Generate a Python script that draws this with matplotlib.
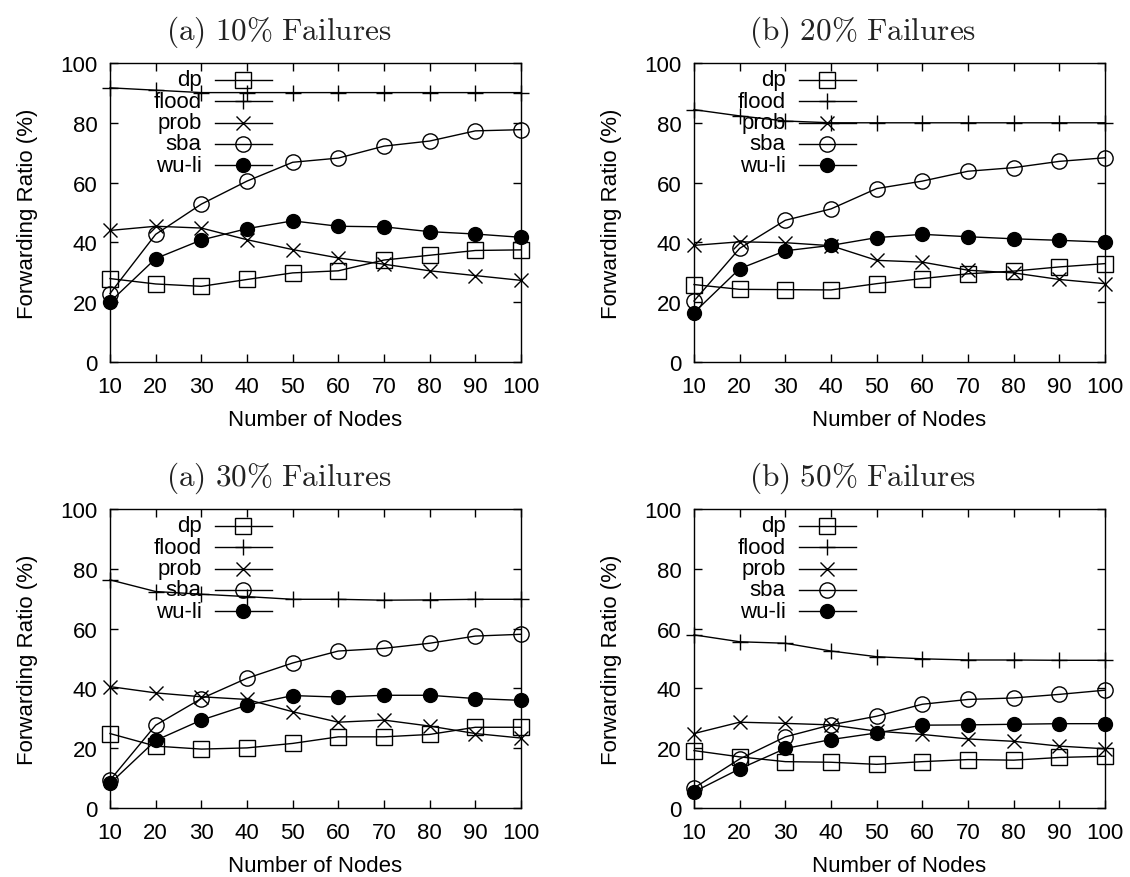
import matplotlib
matplotlib.use("Agg")
import matplotlib.pyplot as plt

plt.rcParams['font.family'] = ['Liberation Sans', 'DejaVu Sans']
plt.rcParams['mathtext.fontset'] = 'cm'

# Number of nodes in the network
nodes = [10, 20, 30, 40, 50, 60, 70, 80, 90, 100]

series_names = ["dp", "flood", "prob", "sba", "wu-li"]

# Forwarding ratio (%) for 10% failures
f10_dp    = [27.9, 26.1, 25.3, 27.6, 29.8, 30.5, 34.1, 35.7, 37.3, 37.5]
f10_flood = [91.7, 90.9, 90.1, 90.1, 90.1, 90.1, 90.1, 90.1, 90.1, 90.1]
f10_prob  = [44.0, 45.4, 44.8, 40.9, 37.6, 34.8, 32.7, 30.5, 28.9, 27.3]
f10_sba   = [22.9, 42.7, 52.8, 60.5, 66.8, 68.2, 72.2, 73.9, 77.3, 77.7]
f10_wuli  = [20.1, 34.6, 40.8, 44.6, 47.2, 45.4, 45.2, 43.6, 42.8, 41.7]

# Forwarding ratio (%) for 20% failures
f20_dp    = [25.9, 24.3, 24.2, 24.1, 26.2, 27.9, 29.5, 30.4, 31.8, 32.9]
f20_flood = [84.4, 82.3, 80.6, 80.0, 80.0, 80.0, 80.0, 80.0, 80.0, 80.0]
f20_prob  = [39.0, 40.2, 39.9, 38.9, 34.0, 33.4, 30.7, 29.8, 27.6, 26.2]
f20_sba   = [20.4, 38.0, 47.4, 51.2, 58.0, 60.5, 63.8, 65.0, 67.1, 68.3]
f20_wuli  = [16.5, 31.2, 37.2, 39.0, 41.6, 42.7, 41.9, 41.2, 40.7, 40.1]

# Forwarding ratio (%) for 30% failures
f30_dp    = [24.9, 20.7, 19.7, 20.1, 21.6, 23.8, 23.8, 24.6, 27.0, 27.0]
f30_flood = [76.3, 72.4, 71.5, 70.7, 69.8, 69.8, 69.5, 69.6, 69.8, 69.8]
f30_prob  = [40.6, 38.5, 37.2, 36.3, 32.2, 28.7, 29.4, 27.4, 24.9, 23.4]
f30_sba   = [9.3, 27.7, 36.6, 43.4, 48.5, 52.5, 53.4, 55.1, 57.5, 58.1]
f30_wuli  = [8.2, 22.6, 29.4, 34.4, 37.6, 37.1, 37.7, 37.7, 36.6, 36.0]

# Forwarding ratio (%) for 50% failures
f50_dp    = [19.2, 17.1, 15.5, 15.3, 14.6, 15.5, 16.2, 16.0, 16.9, 17.3]
f50_flood = [57.9, 55.6, 55.1, 52.5, 50.6, 49.9, 49.5, 49.5, 49.4, 49.4]
f50_prob  = [24.9, 28.7, 28.3, 27.8, 25.7, 24.6, 23.1, 22.3, 20.7, 19.8]
f50_sba   = [6.7, 16.4, 23.8, 27.8, 30.7, 34.7, 36.3, 36.8, 38.0, 39.4]
f50_wuli  = [5.4, 13.1, 19.9, 22.9, 25.1, 27.7, 27.8, 28.0, 28.2, 28.2]

panel_titles = [r"$\mathrm{(a)\ 10\%\ Failures}$", r"$\mathrm{(b)\ 20\%\ Failures}$",
                r"$\mathrm{(a)\ 30\%\ Failures}$", r"$\mathrm{(b)\ 50\%\ Failures}$"]
panel_data = [
    [f10_dp, f10_flood, f10_prob, f10_sba, f10_wuli],
    [f20_dp, f20_flood, f20_prob, f20_sba, f20_wuli],
    [f30_dp, f30_flood, f30_prob, f30_sba, f30_wuli],
    [f50_dp, f50_flood, f50_prob, f50_sba, f50_wuli],
]

y_ticks = [0, 20, 40, 60, 80, 100]

styles = [
    dict(marker='s', markersize=11, markerfacecolor='none'),
    dict(marker='+', markersize=11),
    dict(marker='x', markersize=10),
    dict(marker='o', markersize=11, markerfacecolor='none'),
    dict(marker='o', markersize=10, markerfacecolor='black'),
]

FS = 16

fig = plt.figure(figsize=(11.3, 8.78), dpi=100)

W, H = 1130, 878
ax_w, ax_h = 411, 299
lefts = [110, 694]
tops = [64, 510]

for idx in range(4):
    r, c = divmod(idx, 2)
    l = lefts[c]
    t = tops[r]
    ax = fig.add_axes([l / W, 1 - (t + ax_h) / H, ax_w / W, ax_h / H])
    for name, vals, st in zip(series_names, panel_data[idx], styles):
        ax.plot(nodes, vals, color='black', lw=1.0, markeredgewidth=1.0,
                markeredgecolor='black', clip_on=False, **st)
    ax.set_xlim(10, 100)
    ax.set_ylim(0, 100)
    ax.set_xticks(nodes)
    ax.set_yticks(y_ticks)
    ax.tick_params(direction='in', length=6, width=1, top=True, right=True,
                   labelsize=FS, colors='black')
    ax.tick_params(axis='x', pad=10)
    ax.tick_params(axis='y', pad=9)
    for sp in ax.spines.values():
        sp.set_linewidth(1.0)
    ax.set_xlabel("Number of Nodes", fontsize=FS, labelpad=9)
    ax.set_ylabel("Forwarding Ratio (%)", fontsize=FS, labelpad=16)

    # gnuplot-style key: right-aligned labels followed by a sample line
    for i, (name, st) in enumerate(zip(series_names, styles)):
        yk = 0.944 - i * 0.0715
        ax.text(0.223, yk, name, ha='right', va='center', fontsize=FS,
                transform=ax.transAxes)
        ax.plot([0.255, 0.393], [yk, yk], color='black', lw=1.0,
                transform=ax.transAxes, clip_on=False)
        ax.plot([0.324], [yk], color='black', markeredgewidth=1.0,
                markeredgecolor='black', transform=ax.transAxes,
                clip_on=False, linestyle='none', **st)

    tx = (l + ax_w / 2 - 37) / W
    ty = 1 - (32 if r == 0 else 478) / H
    fig.text(tx, ty, panel_titles[idx], ha='center', va='center',
             fontsize=22.5, color='#222222')

fig.savefig("out.png", dpi=100)
